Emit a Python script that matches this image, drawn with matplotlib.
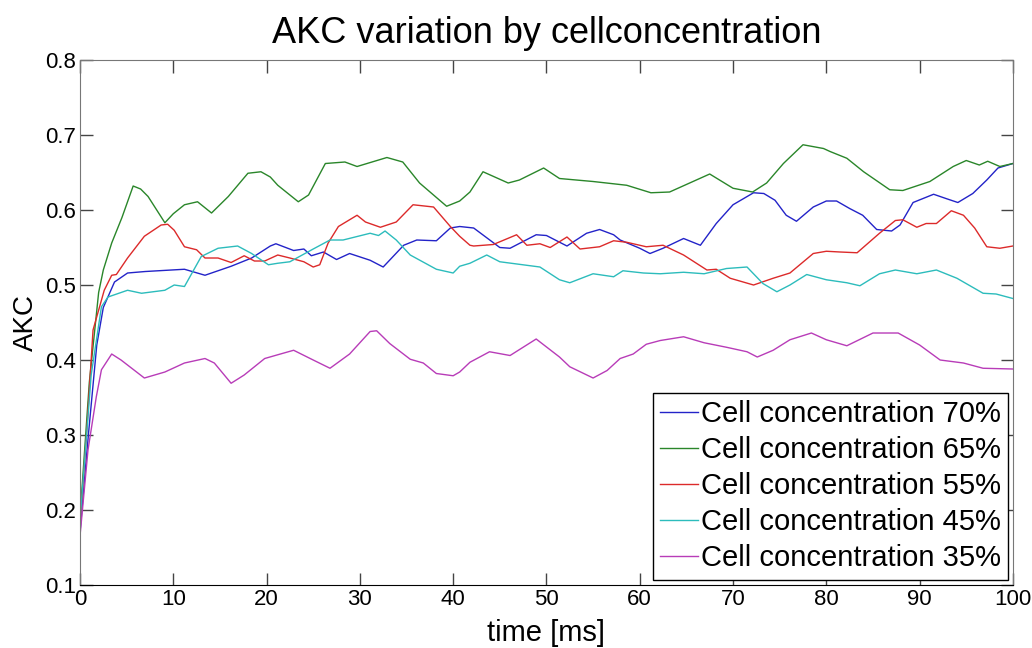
import matplotlib
matplotlib.use("Agg")
import matplotlib.pyplot as plt

plt.rcParams['font.family'] = ['Liberation Sans', 'DejaVu Sans']

# Cell concentration 70%
t70 = [0, 0.9, 1.8, 2.5, 3.7, 5.1, 7, 9.8, 11.2, 13.4, 16.2, 18.4, 20.4, 21, 22.9, 24, 24.8, 26.1,
       27.5, 28.9, 31.1, 32.5, 34.7, 36.1, 38.2, 39.7, 40.7, 42.2, 45, 46.1, 48.9, 50, 52.2, 54.3,
       55.7, 57.2, 57.9, 60, 61.1, 62.5, 64.7, 66.5, 68.2, 70, 72.2, 73.3, 74.5, 75.7, 76.8, 78.6,
       80, 81.1, 82.5, 83.9, 85.4, 87, 87.9, 89.3, 91.5, 92.9, 94.1, 95.7, 97.2, 98.4, 100]
v70 = [0.17, 0.30, 0.42, 0.47, 0.504, 0.516, 0.518, 0.52, 0.521, 0.513, 0.525, 0.536, 0.552, 0.555,
       0.546, 0.548, 0.539, 0.544, 0.534, 0.542, 0.533, 0.524, 0.553, 0.56, 0.559, 0.576, 0.578,
       0.576, 0.55, 0.549, 0.567, 0.566, 0.552, 0.569, 0.574, 0.567, 0.56, 0.549, 0.542, 0.549,
       0.562, 0.553, 0.582, 0.607, 0.623, 0.622, 0.613, 0.593, 0.585, 0.604, 0.612, 0.612, 0.602,
       0.593, 0.574, 0.572, 0.58, 0.61, 0.621, 0.615, 0.61, 0.622, 0.64, 0.656, 0.662]

# Cell concentration 65%
t65 = [0, 1, 2, 2.5, 3.4, 4.5, 5.7, 6.5, 7.3, 9.1, 10, 11.2, 12.6, 14.1, 15.9, 18, 19.4, 20.4,
       21.2, 23.4, 24.5, 26.3, 28.4, 29.7, 32.9, 34.6, 36.4, 39.3, 40.7, 41.8, 43.2, 45.9, 47.1,
       49.7, 51.4, 55, 58.6, 61.2, 63.2, 67.5, 70, 72.1, 73.6, 75.4, 77.5, 79.7, 80.4, 82.2, 84,
       86.8, 88.2, 91.1, 93.6, 95, 96.4, 97.3, 98.6, 100]
v65 = [0.19, 0.37, 0.49, 0.52, 0.556, 0.59, 0.632, 0.628, 0.618, 0.583, 0.595, 0.607, 0.611, 0.596,
       0.618, 0.649, 0.651, 0.644, 0.633, 0.611, 0.62, 0.662, 0.664, 0.658, 0.67, 0.664, 0.636,
       0.605, 0.612, 0.624, 0.651, 0.636, 0.64, 0.656, 0.642, 0.638, 0.633, 0.623, 0.624, 0.648,
       0.629, 0.624, 0.636, 0.662, 0.687, 0.682, 0.678, 0.669, 0.651, 0.627, 0.626, 0.638, 0.658,
       0.666, 0.66, 0.665, 0.658, 0.662]

# Cell concentration 55%
t55 = [0, 0.7, 1.4, 2.6, 3.4, 3.9, 5.1, 6.9, 8.7, 9.4, 10.1, 11.2, 12.5, 13.4, 14.8, 16.2, 17.6,
       18.7, 19.8, 21.2, 22.5, 24, 25, 25.7, 26.6, 27.7, 29.7, 30.6, 32.2, 33.9, 35.7, 37.9, 39.7,
       40.7, 41.8, 42.2, 44.3, 46.8, 47.9, 49.3, 50.4, 52.2, 53.6, 55.7, 57.2, 58.6, 60.7, 62.5,
       64.7, 67.2, 68.2, 69.7, 72.2, 74.3, 76.1, 78.6, 80, 81.5, 83.3, 85.7, 87.4, 88.2, 89.7,
       90.7, 91.8, 93.4, 94.7, 95.9, 97.2, 98.6, 100]
v55 = [0.18, 0.30, 0.44, 0.493, 0.513, 0.514, 0.536, 0.565, 0.58, 0.581, 0.573, 0.551, 0.547, 0.536,
       0.536, 0.53, 0.539, 0.532, 0.532, 0.54, 0.536, 0.531, 0.524, 0.527, 0.556, 0.578, 0.593,
       0.584, 0.577, 0.584, 0.607, 0.604, 0.578, 0.565, 0.553, 0.552, 0.554, 0.567, 0.553, 0.555,
       0.55, 0.564, 0.548, 0.551, 0.559, 0.557, 0.551, 0.553, 0.54, 0.52, 0.521, 0.509, 0.50,
       0.509, 0.516, 0.542, 0.545, 0.544, 0.543, 0.569, 0.586, 0.587, 0.577, 0.582, 0.582, 0.599,
       0.593, 0.576, 0.551, 0.549, 0.552]

# Cell concentration 45%
t45 = [0, 1.2, 2.3, 3, 5.1, 6.6, 9.1, 10.1, 11.2, 13, 14.8, 16.9, 18.4, 20.2, 21.2, 22.5, 25,
       26.8, 28.2, 31.1, 32, 32.7, 33.9, 35.4, 38.2, 40, 40.7, 41.8, 43.6, 45, 49.3, 51.4, 52.5,
       55, 57.2, 58.2, 60.4, 62.2, 64.7, 66.9, 69.3, 71.5, 73.2, 74.7, 76.1, 77.9, 80, 82.2, 83.6,
       85.7, 87.4, 89.7, 91.8, 94, 96.8, 98.2, 100]
v45 = [0.185, 0.38, 0.471, 0.484, 0.493, 0.489, 0.493, 0.5, 0.498, 0.538, 0.549, 0.552, 0.542,
       0.527, 0.529, 0.531, 0.548, 0.56, 0.56, 0.569, 0.566, 0.572, 0.56, 0.54, 0.521, 0.516, 0.525,
       0.529, 0.54, 0.531, 0.524, 0.507, 0.503, 0.515, 0.511, 0.519, 0.516, 0.515, 0.517, 0.515,
       0.522, 0.524, 0.502, 0.491, 0.50, 0.514, 0.507, 0.503, 0.499, 0.515, 0.52, 0.515, 0.52,
       0.509, 0.489, 0.488, 0.482]

# Cell concentration 35%
t35 = [0, 0.86, 1.75, 2.3, 3.4, 4.4, 6.9, 9.1, 11.2, 13.4, 14.4, 16.2, 17.6, 19.8, 21.2, 22.9, 25,
       26.8, 28.9, 31.1, 31.8, 33.2, 35.4, 36.8, 38.2, 40, 40.7, 41.8, 43.9, 46.1, 48.9, 51.4,
       52.5, 55, 56.5, 57.9, 59.3, 60.7, 62.2, 64.7, 66.9, 69.3, 71.5, 72.6, 74.3, 76.1, 78.4, 80,
       82.2, 85, 87.7, 90, 92.2, 94.7, 96.8, 100]
v35 = [0.165, 0.28, 0.351, 0.387, 0.408, 0.40, 0.376, 0.384, 0.396, 0.402, 0.396, 0.369, 0.38,
       0.402, 0.407, 0.413, 0.40, 0.389, 0.408, 0.438, 0.439, 0.422, 0.401, 0.396, 0.382, 0.379,
       0.384, 0.397, 0.411, 0.406, 0.428, 0.404, 0.391, 0.376, 0.386, 0.402, 0.408, 0.421, 0.426,
       0.431, 0.423, 0.417, 0.411, 0.404, 0.413, 0.427, 0.436, 0.427, 0.419, 0.436, 0.436, 0.42,
       0.40, 0.396, 0.389, 0.388]

series = [
    (t70, v70, 'Cell concentration 70%', '#2323c8'),
    (t65, v65, 'Cell concentration 65%', '#2a862a'),
    (t55, v55, 'Cell concentration 55%', '#dc2a2a'),
    (t45, v45, 'Cell concentration 45%', '#2cbcbc'),
    (t35, v35, 'Cell concentration 35%', '#b83cb8'),
]

fig = plt.figure(figsize=(10.32, 6.48), dpi=100)
ax = fig.add_axes([0.0775, 0.0972, 0.904, 0.8102])

for t, v, lab, col in series:
    ax.plot(t, v, color=col, lw=1.0, label=lab)

ax.set_xlim(0, 100)
ax.set_ylim(0.1, 0.8)
ax.set_xticks(range(0, 101, 10))
ax.set_yticks([0.1, 0.2, 0.3, 0.4, 0.5, 0.6, 0.7, 0.8])
ax.set_yticklabels(['0.1', '0.2', '0.3', '0.4', '0.5', '0.6', '0.7', '0.8'])
ax.tick_params(direction='in', length=9, width=1, top=True, right=True, labelsize=16, pad=3,
               colors='#444444', labelcolor='black')
for side in ['left', 'top', 'right']:
    ax.spines[side].set_color('#777777')
ax.spines['bottom'].set_color('black')

ax.set_xlabel('time [ms]', fontsize=21, labelpad=6)
ax.set_ylabel('AKC', fontsize=20, labelpad=4)
ax.set_title('AKC variation by cellconcentration', fontsize=26, pad=12)

leg = ax.legend(loc='lower right', bbox_to_anchor=(0.995, 0.01), borderaxespad=0, fontsize=21,
                fancybox=False, framealpha=1, edgecolor='black', handlelength=1.3,
                handletextpad=0.1, labelspacing=0.28, borderpad=0.25)
leg.get_frame().set_linewidth(1.0)

fig.savefig('out.png', dpi=100)
